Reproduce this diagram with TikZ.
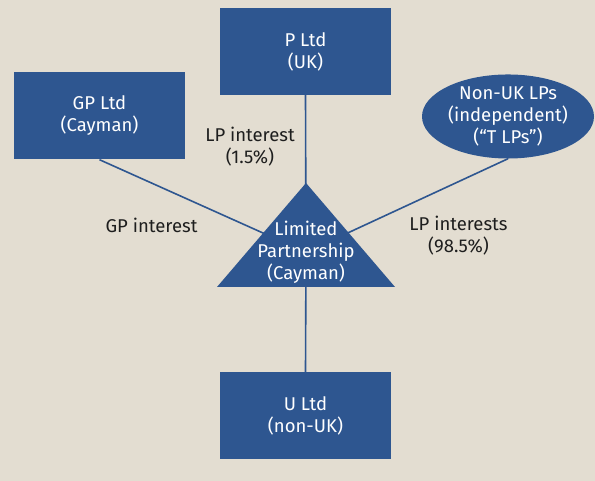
\documentclass[tikz,border=0pt]{standalone}
\usepackage{fontspec}
\setmainfont{Fira Sans}
\usepackage{xcolor}
\usepackage{tikz}
\usetikzlibrary{shapes.geometric, positioning}

\definecolor{paper}{HTML}{E3DDD1}
\definecolor{navy}{HTML}{2E5690}
\definecolor{ink}{HTML}{1E1E1E}

\begin{document}
\begin{tikzpicture}[x=1pt, y=1pt,
    box/.style={rectangle, fill=navy, minimum width=171pt, minimum height=87pt, align=center, text=white, font=\fontsize{18.5}{22}\selectfont},
    oval/.style={ellipse, fill=navy, minimum width=172pt, minimum height=83pt, inner sep=0pt, align=center, text=white, font=\fontsize{18.5}{22}\selectfont},
    lbl/.style={align=center, text=ink, font=\fontsize{18.5}{22}\selectfont},
    link/.style={navy, line width=1.6pt}
]
\fill[paper] (0,0) rectangle (595,481);

\node[box]  (p)   at (305.5,429.5) {P Ltd\\(UK)};
\node[box]  (gp)  at (99.5,365)    {GP Ltd\\(Cayman)};
\node[box]  (u)   at (305.5,65.5)  {U Ltd\\(non-UK)};
\node[oval] (tlp) at (508,364.5)   {Non-UK LPs\\(independent)\\(``T LPs'')};

% corners of the partnership triangle
\coordinate (top)   at (306,298);
\coordinate (left)  at (217,194);
\coordinate (right) at (395,194);
\coordinate (mid)   at (306,228.7);

\draw[link] (p.south)   -- (mid);
\draw[link] (u.north)   -- (mid);
\draw[link] (gp.south)  -- (mid);
\draw[link] (tlp.south) -- (mid);

\fill[navy] (top) -- (left) -- (right) -- cycle;
\node[lbl, text=white] (lp) at (mid) {Limited\\Partnership\\(Cayman)};

\node[lbl] (lpone) at (250,334) {LP interest\\(1.5\%)};
\node[lbl] (gpint) at (151.5,256) {GP interest};
\node[lbl] (lptwo) at (458.5,245) {LP interests\\(98.5\%)};
\end{tikzpicture}
\end{document}
